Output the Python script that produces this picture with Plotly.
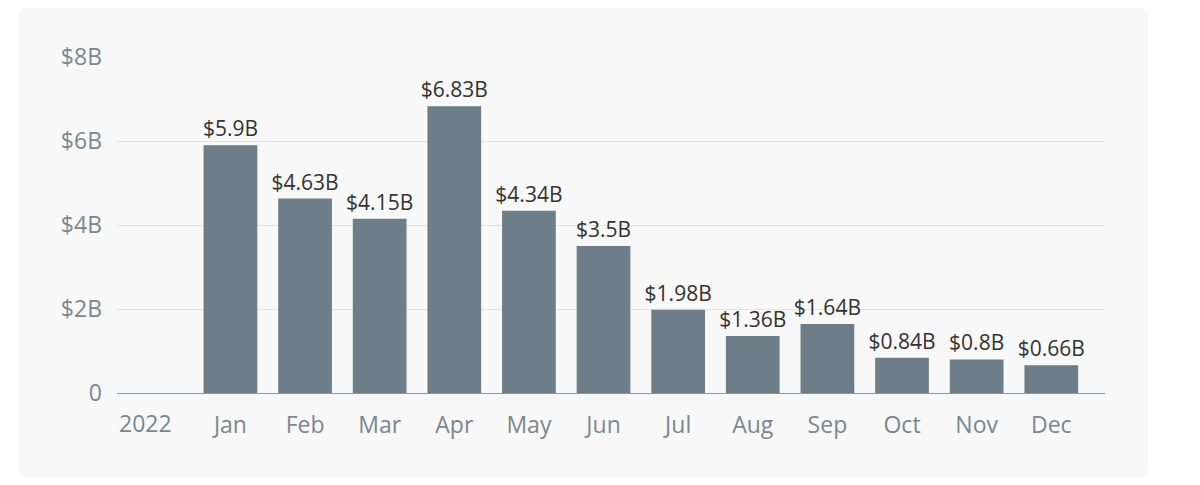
import plotly.graph_objects as go

categories = ["2022", "Jan", "Feb", "Mar", "Apr", "May", "Jun", "Jul", "Aug", "Sep", "Oct", "Nov", "Dec"]
values = [None, 5.9, 4.63, 4.15, 6.83, 4.34, 3.5, 1.98, 1.36, 1.64, 0.84, 0.8, 0.66]
labels = ["", "$5.9B", "$4.63B", "$4.15B", "$6.83B", "$4.34B", "$3.5B", "$1.98B", "$1.36B", "$1.64B", "$0.84B", "$0.8B", "$0.66B"]
xtick_text = [""] + categories[1:]
year_label = "2022"
ytick_vals = [0, 2, 4, 6, 8]
ytick_text = ["0", "$2B", "$4B", "$6B", "$8B"]

fig = go.Figure(go.Bar(
    x=categories, y=values, text=labels, textposition="outside",
    constraintext="none",
    marker=dict(color="#6e7e89", line=dict(width=0)),
    textfont=dict(family="Open Sans", size=21, color="#333333"),
    cliponaxis=False,
))

x0, x1 = -0.1002, 1.0435
y0, y1 = -0.25, 1.1458
rx, ry = 0.0081, 0.0238
card = (f"M {x0},{y1-ry} L {x0},{y0+ry} Q {x0},{y0} {x0+rx},{y0} "
        f"L {x1-rx},{y0} Q {x1},{y0} {x1},{y0+ry} L {x1},{y1-ry} "
        f"Q {x1},{y1} {x1-rx},{y1} L {x0+rx},{y1} Q {x0},{y1} {x0},{y1-ry} Z")

tickfont = dict(family="Open Sans", size=23, color="#7b8790")

fig.update_layout(
    width=1200, height=485,
    margin=dict(l=117, r=95, t=57, b=92),
    paper_bgcolor="white", plot_bgcolor="rgba(0,0,0,0)",
    bargap=0.28, showlegend=False,
    font=dict(family="Open Sans"),
    shapes=[dict(type="path", xref="paper", yref="paper", layer="below",
                 path=card, fillcolor="#f8f8f8", line=dict(width=0))],
    annotations=[dict(x=-0.14, y=0, xref="x", yref="y", text=year_label,
                      showarrow=False, yanchor="top", yshift=-12, font=tickfont)],
)
fig.update_xaxes(
    type="category", range=[-0.52, 12.72],
    tickvals=categories, ticktext=xtick_text,
    showgrid=False, showline=True, linecolor="#8a969e", linewidth=1,
    ticks="", ticklabelstandoff=11, tickfont=tickfont,
)
fig.update_yaxes(
    range=[0, 8], tickvals=ytick_vals, ticktext=ytick_text,
    showgrid=True, gridcolor="#e3e3e3", gridwidth=1, zeroline=False,
    showline=False, ticks="", ticklen=0, ticklabelstandoff=14, tickfont=tickfont,
)
fig.write_html("out.html")
